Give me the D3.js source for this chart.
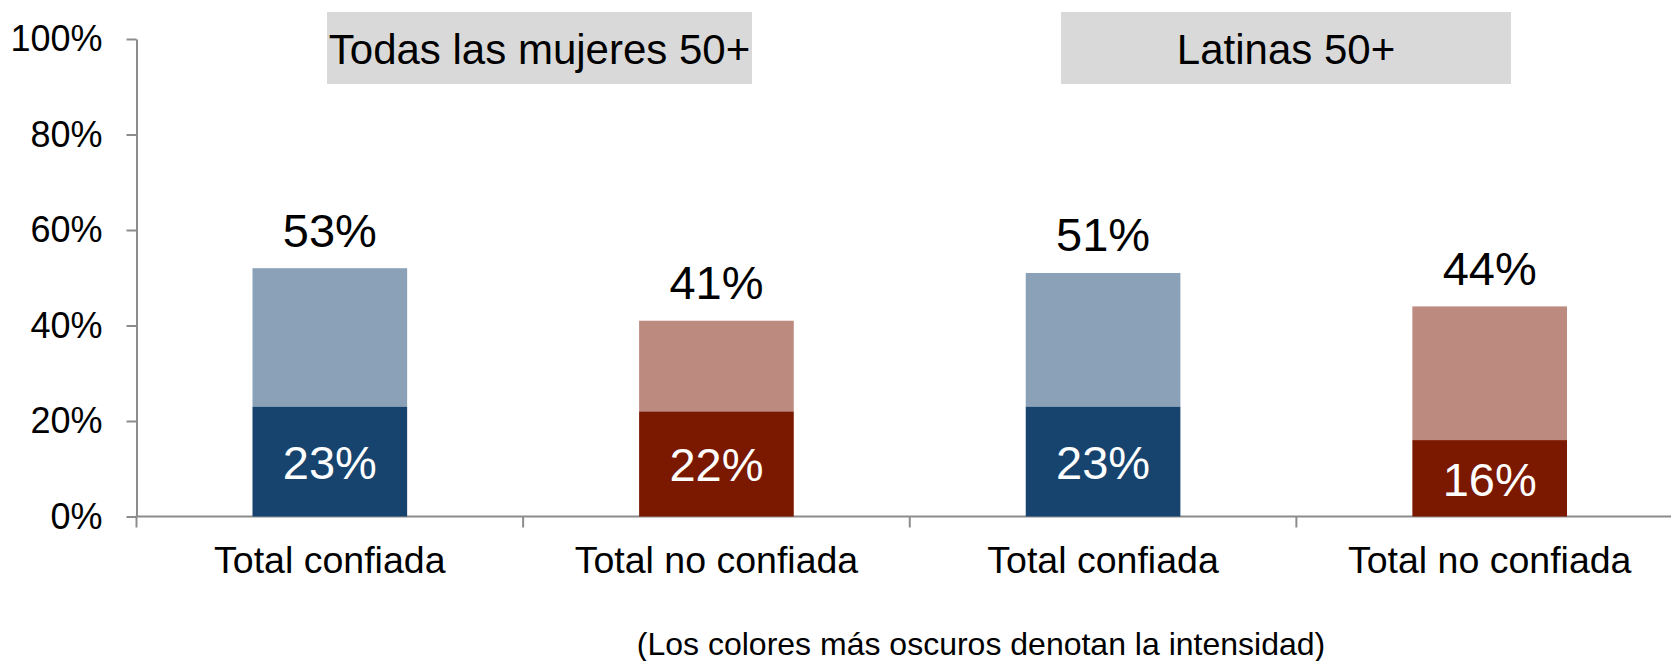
<!DOCTYPE html>
<html><head><meta charset="utf-8">
<script src="https://cdn.jsdelivr.net/npm/d3@7"></script>
<style>
body{margin:0;background:#fff}
svg{display:block}
text{font-family:"Liberation Sans",Arial,Helvetica,sans-serif;fill:#000}
</style>
</head><body>
<svg id="chart" width="1671" height="661"></svg>
<script>
// ---- data ----
const categories = ["Total confiada", "Total no confiada", "Total confiada", "Total no confiada"];
const seriesKind = ["conf", "noconf", "conf", "noconf"];
const intenseValues = [23, 22, 23, 16];      // darker segment
const otherValues = [29, 19, 28, 28];        // lighter segment
const totalLabels = [53, 41, 51, 44];        // printed totals
const groupTitles = ["Todas las mujeres 50+", "Latinas 50+"];
const yTickValues = [0, 20, 40, 60, 80, 100];
const footnote = "(Los colores más oscuros denotan la intensidad)";

// ---- styles ----
const colors = {
  conf: {dark: "#17446F", light: "#8AA1B8"},
  noconf: {dark: "#7A1800", light: "#BC8A7F"}
};
const axisColor = "#8C8C8C";
const boxColor = "#D9D9D9";
const boxExtents = [[327, 752], [1061, 1511]];

const svg = d3.select("#chart");
svg.append("rect").attr("width", 1671).attr("height", 661).attr("fill", "#fff");

const x = d3.scaleBand().domain(d3.range(categories.length))
  .range([136.5, 1683]).paddingInner(0.6).paddingOuter(0.3);
const y = d3.scaleLinear().domain([0, 100]).range([516.5, 39]);

// group title boxes
groupTitles.forEach((t, i) => {
  const [a, b] = boxExtents[i];
  svg.append("rect").attr("x", a).attr("y", 12).attr("width", b - a).attr("height", 72).attr("fill", boxColor);
  svg.append("text").attr("x", (a + b) / 2).attr("y", 64).attr("text-anchor", "middle")
    .style("font-size", "42px").text(t);
});

// y axis
const yAxis = d3.axisLeft(y).tickValues(yTickValues).tickFormat(d => d + "%")
  .tickSize(10).tickSizeOuter(0).tickPadding(24);
const gy = svg.append("g").attr("transform", "translate(136.5,0)").call(yAxis);
gy.select(".domain").attr("stroke", axisColor).attr("stroke-width", 2);
gy.selectAll(".tick line").attr("stroke", axisColor).attr("stroke-width", 2);
gy.selectAll(".tick text").style("font-size", "36px").attr("fill", "#000")
  .attr("font-family", "Liberation Sans, Arial, sans-serif");

// x axis (category boundaries as ticks)
const x0 = x.range()[0];
svg.append("line").attr("x1", x0 - 1).attr("x2", 1671).attr("y1", y(0)).attr("y2", y(0))
  .attr("stroke", axisColor).attr("stroke-width", 2);
d3.range(categories.length + 1).forEach(i => {
  const bx = x0 + i * x.step();
  svg.append("line").attr("x1", bx).attr("x2", bx).attr("y1", y(0)).attr("y2", y(0) + 11)
    .attr("stroke", axisColor).attr("stroke-width", 2);
});

// bars
const bars = svg.append("g");
categories.forEach((c, i) => {
  const col = colors[seriesKind[i]];
  const lo = intenseValues[i], hi = intenseValues[i] + otherValues[i];
  bars.append("rect").attr("x", x(i)).attr("width", x.bandwidth())
    .attr("y", y(hi)).attr("height", y(lo) - y(hi)).attr("fill", col.light);
  bars.append("rect").attr("x", x(i)).attr("width", x.bandwidth())
    .attr("y", y(lo)).attr("height", y(0) - y(lo)).attr("fill", col.dark);
  // inner label
  svg.append("text").attr("x", x(i) + x.bandwidth() / 2)
    .attr("y", (y(0) + y(lo)) / 2 + 17.5).attr("text-anchor", "middle")
    .style("font-size", "47px").style("fill", "#fff").text(intenseValues[i] + "%");
  // total label
  svg.append("text").attr("x", x(i) + x.bandwidth() / 2)
    .attr("y", y(hi) - 21.5).attr("text-anchor", "middle")
    .style("font-size", "47px").text(totalLabels[i] + "%");
  // category label
  svg.append("text").attr("x", x(i) + x.bandwidth() / 2)
    .attr("y", 573).attr("text-anchor", "middle")
    .style("font-size", "37.5px").text(c);
});

// footnote
svg.append("text").attr("x", 981).attr("y", 655).attr("text-anchor", "middle")
  .style("font-size", "32px").text(footnote);
</script>
</body></html>
